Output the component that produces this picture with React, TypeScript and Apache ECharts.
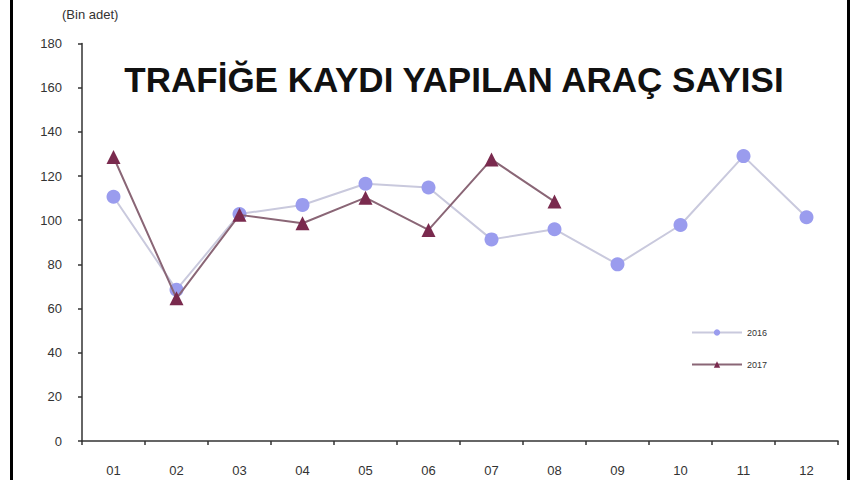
import React, { useEffect, useRef } from "react";
import * as echarts from "echarts";

const months = ["01", "02", "03", "04", "05", "06", "07", "08", "09", "10", "11", "12"];
const series2016 = [110.6, 68.5, 102.8, 106.9, 116.5, 114.8, 91.3, 95.9, 80.0, 97.8, 129.0, 101.3];
const series2017 = [128.6, 64.6, 102.4, 98.6, 110.2, 95.6, 127.5, 108.4];
const seriesNames = ["2016", "2017"];
const titleText = "TRAFİĞE KAYDI YAPILAN ARAÇ SAYISI";
const unitText = "(Bin adet)";

export default function App() {
  const ref = useRef<HTMLDivElement>(null);
  useEffect(() => {
    if (!ref.current) return;
    const chart = echarts.init(ref.current, undefined, { renderer: "svg" });
    const font = "'Liberation Sans', Arial, sans-serif";
    chart.setOption({
      animation: false,
      backgroundColor: "#ffffff",
      textStyle: { fontFamily: font },
      title: {
        text: titleText,
        left: 449,
        top: 57,
        textAlign: "center",
        textStyle: { fontSize: 35, fontWeight: "bold", color: "#111111", fontFamily: font },
      },
      graphic: [
        { type: "rect", shape: { x: 10, y: 0, width: 3, height: 480 }, style: { fill: "#000" } },
        { type: "rect", shape: { x: 847, y: 0, width: 3, height: 480 }, style: { fill: "#000" } },
        {
          type: "text",
          x: 62,
          y: 8,
          style: { text: unitText, fontSize: 13, fill: "#333", fontFamily: font },
        },
      ],
      legend: {
        orient: "vertical",
        left: 686,
        top: 323,
        itemWidth: 50,
        itemHeight: 8,
        itemGap: 23,
        textStyle: { fontSize: 9, color: "#333", fontFamily: font },
        data: seriesNames,
      },
      grid: { left: 82, right: 22, top: 43.5, bottom: 39, containLabel: false },
      xAxis: {
        type: "category",
        data: months,
        boundaryGap: true,
        axisLine: { lineStyle: { color: "#333", width: 1.5 } },
        axisTick: { show: true, inside: false, length: 4, lineStyle: { color: "#333", width: 1.5 } },
        axisLabel: { fontSize: 13, color: "#333", margin: 23, fontFamily: font },
      },
      yAxis: {
        type: "value",
        min: 0,
        max: 180,
        interval: 20,
        splitLine: { show: false },
        axisLine: { show: true, lineStyle: { color: "#333", width: 1.5 } },
        axisTick: { show: true, length: 4, lineStyle: { color: "#333", width: 1.5 } },
        axisLabel: { fontSize: 13, color: "#333", margin: 20, fontFamily: font },
      },
      series: [
        {
          name: seriesNames[0],
          type: "line",
          data: series2016,
          symbol: "circle",
          symbolSize: 14,
          itemStyle: { color: "#9a9cee" },
          lineStyle: { color: "#c9c9dd", width: 2 },
          z: 2,
        },
        {
          name: seriesNames[1],
          type: "line",
          data: series2017,
          symbol: "triangle",
          symbolSize: 14,
          itemStyle: { color: "#7a2a4e" },
          lineStyle: { color: "#8a6676", width: 2 },
          z: 3,
        },
      ],
    });
    return () => chart.dispose();
  }, []);
  return <div ref={ref} style={{ width: 860, height: 480, position: "absolute", left: 0, top: 0 }} />;
}
